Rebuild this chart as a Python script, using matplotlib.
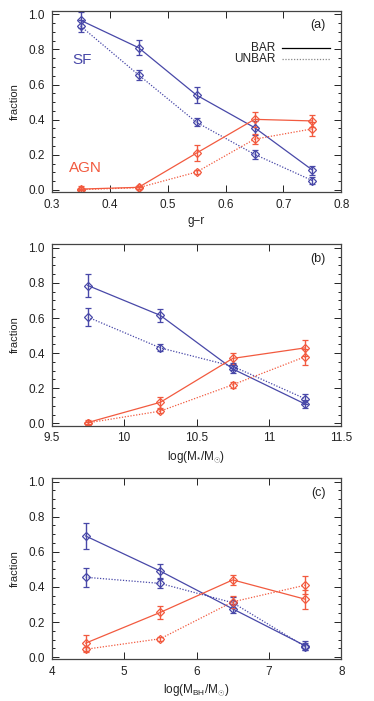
import numpy as np
import matplotlib
matplotlib.use('Agg')
import matplotlib.pyplot as plt
from matplotlib.ticker import MultipleLocator

plt.rcParams['font.family'] = ['Liberation Sans', 'DejaVu Sans']
plt.rcParams['mathtext.fontset'] = 'custom'
plt.rcParams['mathtext.rm'] = 'Liberation Sans'
plt.rcParams['mathtext.it'] = 'Liberation Sans'

BLUE = '#4848a8'
RED = '#f25a3f'

# panel (a): g-r
x_a = [0.35, 0.45, 0.55, 0.65, 0.75]
sf_bar_a = [0.966, 0.81, 0.54, 0.355, 0.113]
sf_bar_a_err = [0.045, 0.044, 0.044, 0.04, 0.025]
sf_unbar_a = [0.933, 0.655, 0.385, 0.203, 0.053]
sf_unbar_a_err = [0.035, 0.03, 0.022, 0.025, 0.02]
agn_bar_a = [0.005, 0.015, 0.21, 0.402, 0.393]
agn_bar_a_err = [0.015, 0.008, 0.045, 0.044, 0.035]
agn_unbar_a = [0.002, 0.013, 0.102, 0.289, 0.348]
agn_unbar_a_err = [0.004, 0.005, 0.012, 0.03, 0.04]

# panel (b): log stellar mass
x_b = [9.75, 10.25, 10.75, 11.25]
sf_bar_b = [0.785, 0.615, 0.31, 0.11]
sf_bar_b_err = [0.065, 0.037, 0.025, 0.025]
sf_unbar_b = [0.605, 0.43, 0.325, 0.14]
sf_unbar_b_err = [0.053, 0.02, 0.02, 0.03]
agn_bar_b = [0.005, 0.12, 0.37, 0.43]
agn_bar_b_err = [0.012, 0.03, 0.03, 0.045]
agn_unbar_b = [0.003, 0.07, 0.22, 0.38]
agn_unbar_b_err = [0.005, 0.012, 0.018, 0.045]

# panel (c): log black hole mass
x_c = [4.47, 5.5, 6.5, 7.5]
sf_bar_c = [0.69, 0.49, 0.275, 0.065]
sf_bar_c_err = [0.075, 0.04, 0.025, 0.025]
sf_unbar_c = [0.455, 0.42, 0.31, 0.06]
sf_unbar_c_err = [0.055, 0.025, 0.03, 0.02]
agn_bar_c = [0.08, 0.255, 0.44, 0.33]
agn_bar_c_err = [0.045, 0.035, 0.03, 0.055]
agn_unbar_c = [0.045, 0.105, 0.315, 0.41]
agn_unbar_c_err = [0.015, 0.012, 0.035, 0.05]

fig = plt.figure(figsize=(3.74, 7.01), dpi=100)

panels = [
    (x_a, sf_bar_a, sf_bar_a_err, sf_unbar_a, sf_unbar_a_err,
     agn_bar_a, agn_bar_a_err, agn_unbar_a, agn_unbar_a_err,
     (0.3, 0.8), 0.1, 'g\u2212r', '(a)', 0.726),
    (x_b, sf_bar_b, sf_bar_b_err, sf_unbar_b, sf_unbar_b_err,
     agn_bar_b, agn_bar_b_err, agn_unbar_b, agn_unbar_b_err,
     (9.5, 11.5), 0.5, r'log(M$_{*}$/M$_{\odot}$)', '(b)', 0.393),
    (x_c, sf_bar_c, sf_bar_c_err, sf_unbar_c, sf_unbar_c_err,
     agn_bar_c, agn_bar_c_err, agn_unbar_c, agn_unbar_c_err,
     (4, 8), 1, r'log(M$_{BH}$/M$_{\odot}$)', '(c)', 0.0595),
]

dot = (0, (1, 1.3))
axes = []
for (x, sb, sbe, su, sue, ab, abe, au, aue, xl, xstep, xlab, tag, bot) in panels:
    ax = fig.add_axes([0.138, bot, 0.775, 0.2586])
    axes.append(ax)
    for y, e, col, ls in [(sb, sbe, BLUE, '-'), (su, sue, BLUE, dot),
                          (ab, abe, RED, '-'), (au, aue, RED, dot)]:
        ax.plot(x, y, color=col, lw=0.9, ls=ls)
        ax.errorbar(x, y, yerr=e, fmt='D', mfc='none', mec=col, ms=4.5, mew=0.9,
                    ecolor=col, elinewidth=1.0, capsize=2, capthick=1.0, ls='none')
    ax.set_xlim(*xl)
    ax.set_ylim(-0.012, 1.02)
    ax.xaxis.set_major_locator(MultipleLocator(xstep))
    ax.yaxis.set_major_locator(MultipleLocator(0.2))
    ax.yaxis.set_minor_locator(MultipleLocator(0.05))
    ax.yaxis.set_major_formatter(matplotlib.ticker.FormatStrFormatter('%.1f'))
    if xstep == 0.1:
        ax.xaxis.set_major_formatter(matplotlib.ticker.FormatStrFormatter('%.1f'))
    elif xstep == 0.5:
        ax.xaxis.set_major_formatter(matplotlib.ticker.FuncFormatter(
            lambda v, p: ('%g' % v)))
    ax.tick_params(which='both', direction='in', top=True, right=True,
                   labelsize=8.5, colors='#222222', pad=5)
    ax.tick_params(which='major', length=5, width=0.7)
    ax.tick_params(which='minor', length=2.5, width=0.7)
    for s in ax.spines.values():
        s.set_color('#444444')
        s.set_linewidth(0.9)
    ax.set_ylabel('fraction', fontsize=8, color='#222222', labelpad=6)
    ax.set_xlabel(xlab, fontsize=8.5, color='#222222', labelpad=3)
    ax.text(0.945, 0.92, tag, transform=ax.transAxes, ha='right', va='center',
            fontsize=9, color='#222222')

ax = axes[0]
ax.text(0.336, 0.74, 'SF', color=BLUE, fontsize=11, va='center')
ax.text(0.33, 0.125, 'AGN', color=RED, fontsize=11, va='center')
ax.text(0.686, 0.81, 'BAR', fontsize=8.5, ha='right', va='center', color='#222222')
ax.text(0.686, 0.745, 'UNBAR', fontsize=8.5, ha='right', va='center', color='#222222')
ax.plot([0.697, 0.78], [0.81, 0.81], color='black', lw=0.9)
ax.plot([0.697, 0.78], [0.745, 0.745], color='#888888', lw=0.9, ls=dot)

fig.savefig('out.png', dpi=100)
